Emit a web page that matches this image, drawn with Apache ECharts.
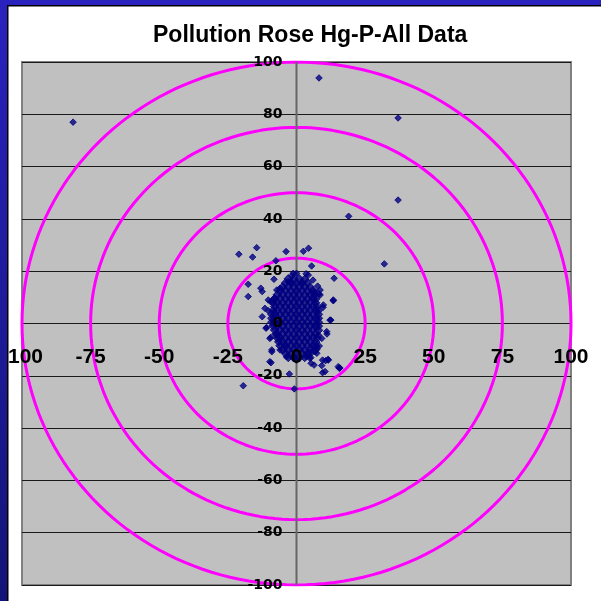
<!DOCTYPE html>
<html>
<head>
<meta charset="utf-8">
<script src="https://cdn.jsdelivr.net/npm/echarts@6/dist/echarts.min.js"></script>
<style>html,body{margin:0;padding:0;background:#fff;}#c{width:601px;height:601px;}</style>
</head>
<body>
<div id="c"></div>
<script>
// ---- data ----
const TITLE = 'Pollution Rose Hg-P-All Data';
const RING_RADII = [25, 50, 75, 100];
const X_TICK_INTERVAL = 25;
const Y_TICK_INTERVAL = 20;
const AXIS_MIN = -100, AXIS_MAX = 100;

const OUTLIER_POINTS = [
  [-81.4, 77], [8.2, 93.9], [37, 78.6], [37, 47.2], [19, 41], [32, 22.8],
  [2.5, 27.6], [4.4, 28.8], [-21, 26.5], [-14.5, 29], [-16, 25.4], [-3.8, 27.5],
  [-19.4, -23.8], [-0.8, -25], [-2.6, -19.3]
];

const HALO_POINTS = [
  [-7.5, 24], [5.5, 22], [13.7, 17.3], [-17.6, 15], [-17.6, 10.3], [-13, 13.5], [-12.5, 12.2],
  [-8.2, 16.9], [-1.7, 18.2], [0, 19.2], [3.5, 19], [6, 16.6], [7.7, 14.3], [8.2, 11.3],
  [13.4, 8.7], [9.7, 6.2], [12.5, 1.3], [11.1, -4], [8, -4.4], [8.3, -8.6], [7.4, -11.4],
  [9.5, -14], [10.6, -14.2], [9.2, -16.1], [9.5, -18.8], [11.5, -13.7], [15.6, -17.1],
  [5.3, -15.2], [-9.3, -15], [-9, -10.8], [-9.4, -5.3], [-10.9, -1.5], [-12.5, 2.6],
  [-10.3, 4.9], [-9.4, 8.3], [-8.2, 9.6], [-7.2, 12.8], [-6, 13.5], [-3, 16], [1.9, 15.4],
  [6.7, 12.2], [9.8, 7.1], [-6, -10.1], [-3.6, -12.7], [0, -14], [3.7, -12.7], [6.7, -10.8],
  [-10.3, 9], [-11.5, 5.8], [-11.1, -1.8], [-9.7, -5.7], [-9, -10.1], [-9.7, -14.6],
  [-4.2, -8.2], [-1.2, -13.3], [4.9, -13.3], [11.6, -14], [15.2, -16.5], [12.2, 1.3],
  [13.4, 9], [8.6, 12.8], [8.6, 10.9], [11, -3.1], [9.2, -5.7], [7.4, -9.5], [-1.2, 19.2],
  [4.3, 18.5], [-1.7, 15.4], [5.2, -13], [10.4, -18.4], [15.8, -17], [6.4, -15.9]
];

const CORE_POINTS = [
  [-3, 17.1], [-1, 16.9], [1, 17.1], [3, 16.9],
  [-4, 15.5], [-2, 15.6], [0, 15.4], [2, 15.5], [4, 15.6],
  [-5, 14], [-3, 14.1], [-1, 13.9], [1, 14], [3, 14.1], [5, 13.9],
  [-6, 12.5], [-4, 12.6], [-2, 12.4], [0, 12.5], [2, 12.6], [4, 12.4], [6, 12.5],
  [-7, 11], [-5, 11.1], [-3, 10.9], [-1, 11], [1, 11.1], [3, 10.9], [5, 11], [6.5, 11.1],
  [-8, 9.5], [-6, 9.6], [-4, 9.4], [-2, 9.5], [0, 9.6], [2, 9.4], [4, 9.5], [6, 9.6], [7, 9.4],
  [-8.5, 8], [-7, 8.1], [-5, 7.9], [-3, 8], [-1, 8.1], [1, 7.9], [3, 8], [5, 8.1], [7, 7.9],
  [-8, 6.5], [-6, 6.6], [-4, 6.4], [-2, 6.5], [0, 6.6], [2, 6.4], [4, 6.5], [6, 6.6], [7.5, 6.4],
  [-8.5, 5], [-7, 5.1], [-5, 4.9], [-3, 5], [-1, 5.1], [1, 4.9], [3, 5], [5, 5.1], [7, 4.9], [8, 5],
  [-9, 3.5], [-8, 3.6], [-6, 3.4], [-4, 3.5], [-2, 3.6], [0, 3.4], [2, 3.5], [4, 3.6], [6, 3.4], [8, 3.5],
  [-9, 2], [-7, 2.1], [-5, 1.9], [-3, 2], [-1, 2.1], [1, 1.9], [3, 2], [5, 2.1], [7, 1.9], [8, 2],
  [-9, 0.5], [-8, 0.6], [-6, 0.4], [-4, 0.5], [-2, 0.6], [0, 0.4], [2, 0.5], [4, 0.6], [6, 0.4], [8, 0.5],
  [-8.5, -1], [-7, -0.9], [-5, -1.1], [-3, -1], [-1, -0.9], [1, -1.1], [3, -1], [5, -0.9], [7, -1.1], [8, -1],
  [-8, -2.5], [-6, -2.4], [-4, -2.6], [-2, -2.5], [0, -2.4], [2, -2.6], [4, -2.5], [6, -2.4], [8, -2.6],
  [-7.5, -4], [-7, -4.1], [-5, -3.9], [-3, -4], [-1, -4.1], [1, -3.9], [3, -4], [5, -4.1], [7, -3.9],
  [-7, -5.5], [-6, -5.4], [-4, -5.6], [-2, -5.5], [0, -5.4], [2, -5.6], [4, -5.5], [6, -5.4], [7.5, -5.6],
  [-6.5, -7], [-5, -7.1], [-3, -6.9], [-1, -7], [1, -7.1], [3, -6.9], [5, -7], [7, -7.1],
  [-6, -8.5], [-4, -8.6], [-2, -8.4], [0, -8.5], [2, -8.6], [4, -8.4], [6, -8.5], [7, -8.6],
  [-5, -10], [-3, -10.1], [-1, -9.9], [1, -10], [3, -10.1], [5, -9.9], [7, -10],
  [-4, -11.5], [-2, -11.6], [0, -11.4], [2, -11.5], [4, -11.6], [5, -11.4],
  [-3, -13], [-1, -12.9], [1, -13.1], [3, -13]
];

// ---- chart ----
const chart = echarts.init(document.getElementById('c'), null, {renderer: 'canvas'});

// plot frame (pixels) used for layout only
const GRID_LEFT = 22, GRID_TOP = 62, GRID_RIGHT = 30, GRID_BOTTOM = 16;
const GRID_W = 601 - GRID_LEFT - GRID_RIGHT, GRID_H = 601 - GRID_TOP - GRID_BOTTOM;

function ringPoints(r) {
  const pts = [];
  for (let a = 0; a <= 360; a += 2) {
    const t = a * Math.PI / 180;
    pts.push([r * Math.cos(t), r * Math.sin(t)]);
  }
  return pts;
}

const ringSeries = RING_RADII.map(r => ({
  type: 'line',
  data: ringPoints(r),
  showSymbol: false,
  symbol: 'none',
  silent: true,
  z: 1,
  lineStyle: {color: '#FF00FF', width: 3},
  animation: false
}));

const axisFontX = {fontFamily: 'Liberation Sans, Arial, sans-serif', fontWeight: 'bold', fontSize: 21, color: '#000'};
const axisFontY = {fontFamily: 'DejaVu Sans, sans-serif', fontWeight: 'bold', fontSize: 14, color: '#000'};
const pointStyle = {color: '#000080', borderColor: '#000080', borderWidth: 1};

const option = {
  animation: false,
  backgroundColor: '#ffffff',
  title: {
    text: TITLE,
    left: 153,
    top: 24,
    padding: 0,
    textStyle: {fontFamily: 'Liberation Sans, Arial, sans-serif', fontWeight: 'bold', fontSize: 23, color: '#000'}
  },
  grid: {
    left: GRID_LEFT, top: GRID_TOP, right: GRID_RIGHT, bottom: GRID_BOTTOM,
    containLabel: false, outerBoundsMode: 'none',
    show: true, backgroundColor: '#C0C0C0', borderColor: '#808080', borderWidth: 2
  },
  xAxis: {
    type: 'value', min: AXIS_MIN, max: AXIS_MAX, interval: X_TICK_INTERVAL, z: 4,
    position: 'bottom',
    offset: -GRID_H / 2,
    axisLine: {show: false, onZero: false},
    axisTick: {show: false},
    splitLine: {show: false},
    axisLabel: Object.assign({margin: 23}, axisFontX)
  },
  yAxis: [
    {
      type: 'value', min: AXIS_MIN, max: AXIS_MAX, interval: Y_TICK_INTERVAL, z: 0,
      position: 'right',
      axisLine: {show: false, onZero: false},
      axisTick: {show: false},
      axisLabel: {show: false},
      splitLine: {show: true, lineStyle: {color: '#1a1a1a', width: 1}}
    },
    {
      type: 'value', min: AXIS_MIN, max: AXIS_MAX, interval: Y_TICK_INTERVAL, z: 4,
      position: 'left',
      offset: -GRID_W / 2,
      axisLine: {show: false, onZero: false},
      axisTick: {show: false},
      splitLine: {show: false},
      axisLabel: Object.assign({margin: 14}, axisFontY)
    }
  ],
  series: ringSeries.concat([
    {
      type: 'line',
      data: [[0, AXIS_MIN], [0, AXIS_MAX]],
      showSymbol: false, symbol: 'none', silent: true, z: 2,
      lineStyle: {color: '#666666', width: 2}
    },
    {
      type: 'scatter',
      data: CORE_POINTS,
      symbol: 'diamond',
      symbolSize: 8.5,
      z: 3,
      itemStyle: pointStyle
    },
    {
      type: 'scatter',
      data: OUTLIER_POINTS.concat(HALO_POINTS),
      symbol: 'diamond',
      symbolSize: 6.5,
      z: 3,
      itemStyle: pointStyle
    }
  ]),
  graphic: [
    {type: 'rect', z: 100, shape: {x: 0, y: 0, width: 601, height: 5},
      style: {fill: '#2A22BE'}},
    {type: 'rect', z: 100, shape: {x: 0, y: 0, width: 7, height: 601},
      style: {fill: new echarts.graphic.LinearGradient(0, 0, 0, 1, [
        {offset: 0, color: '#2A22BE'}, {offset: 1, color: '#141478'}])}},
    {type: 'rect', z: 101, shape: {x: 7, y: 5, width: 594, height: 1.5}, style: {fill: '#000'}},
    {type: 'rect', z: 101, shape: {x: 7, y: 5, width: 1.5, height: 596}, style: {fill: '#000'}}
  ]
};
chart.setOption(option);
</script>
</body>
</html>
